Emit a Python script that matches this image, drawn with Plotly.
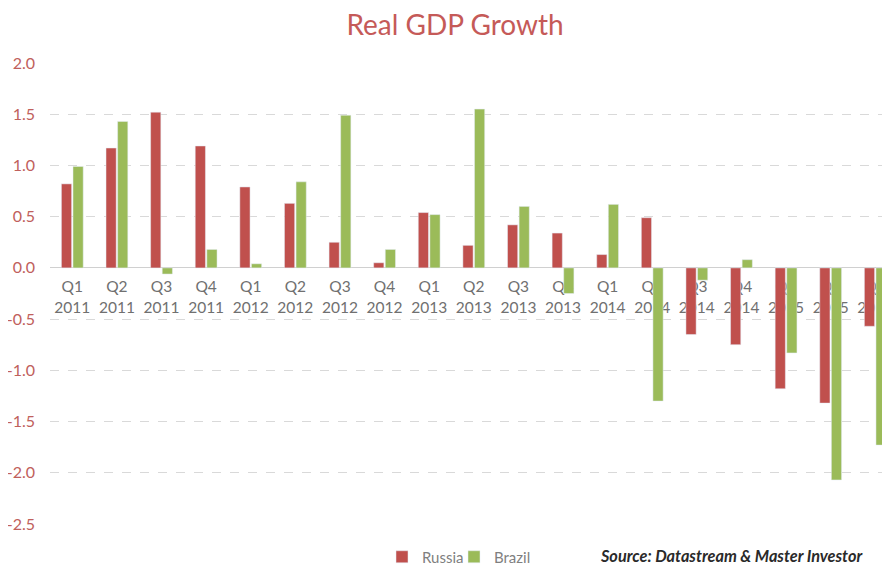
import plotly.graph_objects as go

quarters = ["Q1", "Q2", "Q3", "Q4", "Q1", "Q2", "Q3", "Q4", "Q1", "Q2",
            "Q3", "Q4", "Q1", "Q2", "Q3", "Q4", "Q1", "Q2", "Q3"]
years = ["2011", "2011", "2011", "2011", "2012", "2012", "2012", "2012", "2013", "2013",
         "2013", "2013", "2014", "2014", "2014", "2014", "2015", "2015", "2015"]
categories = [f"{q}<br>{y}" for q, y in zip(quarters, years)]

russia = [0.82, 1.17, 1.52, 1.19, 0.79, 0.63, 0.25, 0.05, 0.54, 0.22,
          0.42, 0.34, 0.13, 0.49, -0.65, -0.75, -1.18, -1.32, -0.57]
brazil = [0.99, 1.43, -0.06, 0.18, 0.04, 0.84, 1.49, 0.18, 0.52, 1.55,
          0.60, -0.25, 0.62, -1.30, -0.12, 0.08, -0.83, -2.07, -1.73]

y_tickvals = [2.0, 1.5, 1.0, 0.5, 0.0, -0.5, -1.0, -1.5, -2.0, -2.5]
y_ticktext = ["2.0", "1.5", "1.0", "0.5", "0.0", "-0.5", "-1.0", "-1.5", "-2.0", "-2.5"]

RED = "#c0504d"
GREEN = "#9bbb59"
FONT = "Lato"
# the page body has an 8px default margin, so the figure is sized to fit
W, H = 882, 558
OFF = 8
ML, MT, MB = 42, 55, 42
PW, PH = W - ML, H - MT - MB

fig = go.Figure()
fig.add_trace(go.Bar(x=categories, y=russia, name="Russia", marker_color=RED, legend="legend"))
fig.add_trace(go.Bar(x=categories, y=brazil, name="Brazil", marker_color=GREEN, legend="legend2"))

ymin, ymax = -2.5, 2.0
zero_pos = (0 - ymin) / (ymax - ymin)

legend_common = dict(orientation="h", xanchor="left", yanchor="middle",
                     xref="container", yref="container",
                     font=dict(family=FONT, size=15, color="#7f7f7f"),
                     itemwidth=30, bgcolor="rgba(0,0,0,0)")

fig.update_layout(
    width=W, height=H,
    margin=dict(l=ML, r=0, t=MT, b=MB, autoexpand=False),
    paper_bgcolor="white", plot_bgcolor="white",
    barmode="group", bargap=0.48, bargroupgap=0.12,
    font=dict(family=FONT),
    title=dict(text="Real GDP Growth", x=(455 - OFF) / W, xanchor="center",
               y=1 - (25 - OFF) / H, yanchor="middle", xref="container", yref="container",
               font=dict(family=FONT, size=28, color="#c55a58")),
    showlegend=True,
    legend=dict(x=(382 - OFF) / W, y=1 - (557 - OFF) / H, **legend_common),
    legend2=dict(x=(454 - OFF) / W, y=1 - (557 - OFF) / H, **legend_common),
    annotations=[dict(text="<b><i>Source: Datastream &amp; Master Investor</i></b>",
                      xref="paper", yref="paper", x=(598 - OFF - ML) / PW,
                      y=-(555 - OFF - (H - MB)) / PH,
                      xanchor="left", yanchor="middle", showarrow=False,
                      font=dict(family=FONT, size=16.3, color="#2a2a2a"))],
)

fig.update_xaxes(
    type="category", anchor="free", position=zero_pos,
    range=[-0.5, 18.33],
    showgrid=False, showline=False, ticks="",
    tickfont=dict(family=FONT, size=15.5, color="#707070"),
    layer="below traces", tickangle=0, automargin=False,
    ticklabelstandoff=8,
)
fig.update_yaxes(
    range=[ymin, ymax], tickvals=y_tickvals, ticktext=y_ticktext,
    showgrid=True, gridcolor="#d9d9d9", griddash="dash", gridwidth=1,
    zeroline=True, zerolinecolor="#d0d0d0", zerolinewidth=1,
    showline=False, ticks="", automargin=False,
    tickfont=dict(family=FONT, size=16, color="#c0605c"),
    ticklabelstandoff=14,
)

fig.write_html("out.html")
